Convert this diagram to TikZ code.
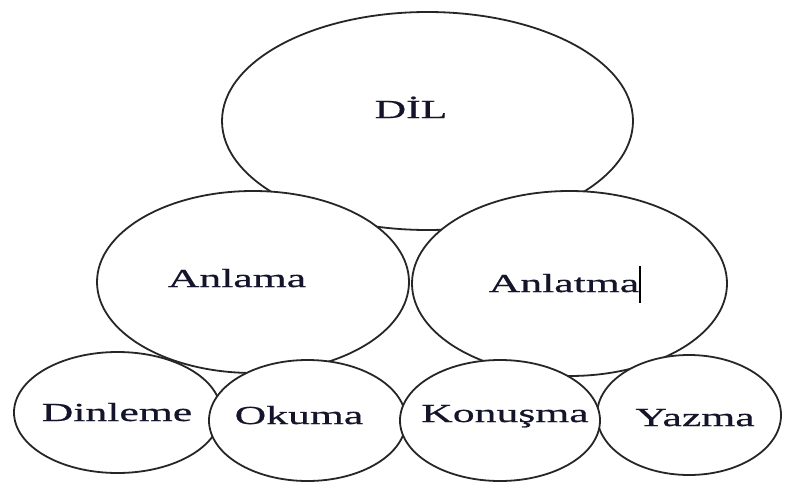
\documentclass[tikz,border=0pt]{standalone}
\usepackage{fontspec}
\setmainfont{Liberation Serif}
\newfontfamily\widefont[FakeStretch=1.68,FakeBold=0.6]{Liberation Serif}
\usetikzlibrary{shapes.geometric}
\definecolor{inkc}{HTML}{14142A}
\begin{document}
\begin{tikzpicture}[x=0.75pt,y=-0.75pt,
  bubble/.style={ellipse,draw=black!85,line width=1.35pt,fill=white,inner sep=0pt},
  word/.style={font=\widefont\fontsize{19.5}{22}\selectfont,text=inkc,inner sep=0pt,anchor=base}]
\useasboundingbox[fill=white] (0,0) rectangle (795,489);
\node[bubble,minimum width=308.25pt,minimum height=163.5pt] (dil) at (427.5,121) {};
\node[bubble,minimum width=234pt,minimum height=136.5pt] (anlama) at (253,282) {};
\node[bubble,minimum width=236.25pt,minimum height=138.75pt] (anlatma) at (569.5,283.5) {};
\node[bubble,minimum width=155.25pt,minimum height=90.75pt] (dinleme) at (117.5,412.5) {};
\node[bubble,minimum width=138pt,minimum height=90pt] (yazma) at (689,415) {};
\node[bubble,minimum width=147.75pt,minimum height=90.75pt] (okuma) at (307.5,420.5) {};
\node[bubble,minimum width=150pt,minimum height=90.75pt] (konusma) at (500,420.5) {};
\node[word] (tdil) at (411,118) {DİL};
\node[word] (tanlama) at (237,287) {Anlama};
\node[word] (tanlatma) at (564,292) {Anlatma};
\node[word] (tdinleme) at (117,421) {Dinleme};
\node[word] (tokuma) at (299,424) {Okuma};
\node[word] (tkonusma) at (505,422) {Konuşma};
\node[word] (tyazma) at (695,426) {Yazma};
\coordinate (cur1) at (640,266);
\coordinate (cur2) at (640,303);
\draw[line width=0.9pt,black] (cur1) -- (cur2);
\end{tikzpicture}
\end{document}
